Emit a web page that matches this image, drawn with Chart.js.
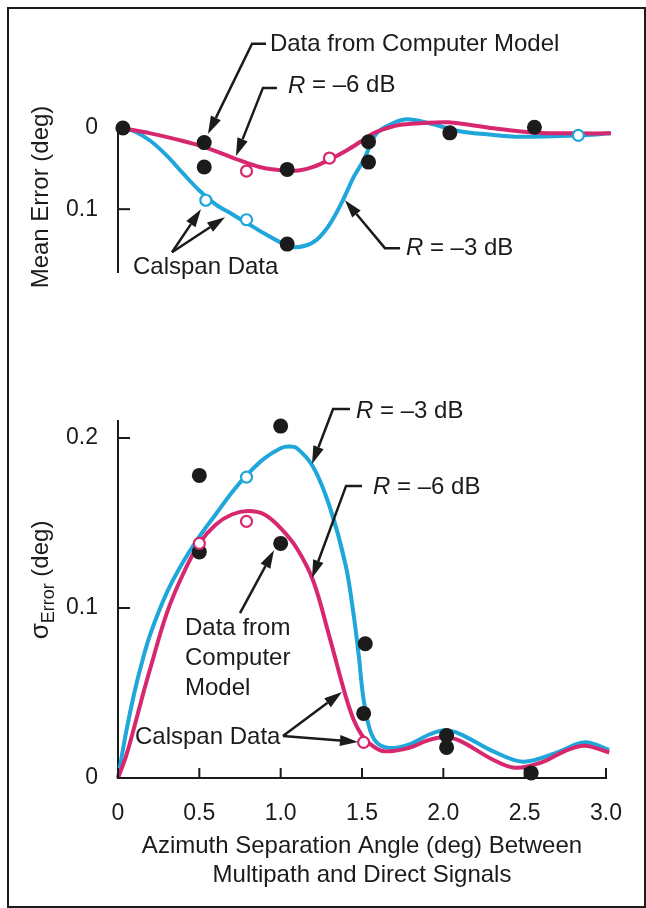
<!DOCTYPE html>
<html>
<head>
<meta charset="utf-8">
<script src="https://cdn.jsdelivr.net/npm/chart.js@4.4.1/dist/chart.umd.min.js"></script>
<style>
  html, body { margin: 0; padding: 0; background: #fff; }
  #page { position: relative; width: 646px; height: 908px; overflow: hidden; background: #fff; }
  #page canvas { position: absolute; left: 0; top: 0; }
  #frame { position: absolute; left: 7px; top: 7px; width: 639px; height: 901px; box-sizing: border-box; border: 2px solid #1c1c1c; }
</style>
</head>
<body>
<div id="page">
  <div id="frame"></div>
  <canvas id="meanChart" width="646" height="908"></canvas>
  <canvas id="sigmaChart" width="646" height="908"></canvas>
</div>
<script>
// x = azimuth separation angle (deg), y = error (deg)
const xTicks = [0, 0.5, 1.0, 1.5, 2.0, 2.5, 3.0]
const xTickLabels = ['0', '0.5', '1.0', '1.5', '2.0', '2.5', '3.0']
const meanTicks = [0, 0.1]
const meanTickLabels = ['0', '0.1']
const sigmaTicks = [0, 0.1, 0.2]
const sigmaTickLabels = ['0', '0.1', '0.2']

// mean error (top panel, axis points down)
const meanR6 = [[0.02, 0], [0.2, 0.0066], [0.36, 0.014], [0.525, 0.023], [0.71, 0.037], [0.87, 0.048],
  [1.04, 0.0527], [1.12, 0.052], [1.2, 0.048], [1.3, 0.039], [1.41, 0.027], [1.49, 0.017], [1.57, 0.0066],
  [1.63, 0.0016], [1.73, -0.0037], [1.86, -0.0058], [2.03, -0.007], [2.31, 0.0004], [2.57, 0.0058],
  [2.82, 0.0066], [3.03, 0.0066]]
const meanR3 = [[0.02, 0], [0.1, 0.004], [0.2, 0.016], [0.3, 0.034], [0.4, 0.056], [0.5, 0.077],
  [0.6, 0.094], [0.7, 0.106], [0.8, 0.118], [0.9, 0.130], [1.0, 0.141], [1.07, 0.1465], [1.15, 0.145],
  [1.22, 0.138], [1.3, 0.119], [1.38, 0.090], [1.45, 0.060], [1.51, 0.0395], [1.59, 0.0066],
  [1.69, -0.0058], [1.78, -0.0107], [1.91, -0.006], [2.1, 0.004], [2.31, 0.0086], [2.44, 0.0107],
  [2.82, 0.0092], [3.03, 0.0066]]
const meanModel = [[0.03, 0], [0.53, 0.018], [0.53, 0.048], [1.04, 0.051], [1.04, 0.143],
  [1.54, 0.017], [1.54, 0.042], [2.04, 0.006], [2.56, -0.001]]
const meanCalspanR6 = [[0.79, 0.053], [1.30, 0.037]]
const meanCalspanR3 = [[0.54, 0.089], [0.79, 0.113], [2.83, 0.009]]

// standard deviation of error (bottom panel)
const sigmaR3 = [[0, 0], [0.05, 0.027], [0.1, 0.050], [0.15, 0.069], [0.2, 0.085], [0.3, 0.109],
  [0.4, 0.127], [0.5, 0.142], [0.6, 0.155], [0.7, 0.168], [0.8, 0.179], [0.9, 0.188], [1.0, 0.194],
  [1.05, 0.195], [1.1, 0.194], [1.2, 0.183], [1.3, 0.160], [1.4, 0.125], [1.45, 0.095], [1.48, 0.072],
  [1.51, 0.046], [1.55, 0.028], [1.6, 0.020], [1.69, 0.0176], [1.8, 0.020], [1.9, 0.025], [2.0, 0.028],
  [2.1, 0.026], [2.3, 0.016], [2.49, 0.0096], [2.7, 0.015], [2.87, 0.021], [3.02, 0.0165]]
const sigmaR6 = [[0, 0], [0.05, 0.013], [0.1, 0.030], [0.15, 0.048], [0.2, 0.065], [0.3, 0.097],
  [0.4, 0.120], [0.5, 0.138], [0.6, 0.149], [0.7, 0.155], [0.8, 0.157], [0.9, 0.155], [1.0, 0.147],
  [1.1, 0.135], [1.2, 0.116], [1.3, 0.083], [1.4, 0.048], [1.45, 0.034], [1.5, 0.025], [1.55, 0.020],
  [1.62, 0.016], [1.7, 0.016], [1.8, 0.018], [1.9, 0.022], [2.0, 0.024], [2.1, 0.022], [2.3, 0.011],
  [2.44, 0.006], [2.6, 0.009], [2.75, 0.016], [2.87, 0.019], [3.02, 0.015]]
const sigmaModel = [[0.50, 0.178], [0.50, 0.133], [1.0, 0.207], [1.0, 0.138], [1.52, 0.079],
  [1.51, 0.038], [2.02, 0.025], [2.02, 0.018], [2.54, 0.003]]
const sigmaCalspanR3 = [[0.79, 0.177]]
const sigmaCalspanR6 = [[0.50, 0.138], [0.79, 0.151], [1.51, 0.021]]

const ink = '#1b1b1b'
const cyan = '#1fa6da'
const magenta = '#d7286f'
const fontFamily = '"Liberation Sans", Arial, Helvetica, sans-serif'

const pt = p => ({x: p[0], y: p[1]})

function curve(points, color) {
  return { data: points.map(pt), showLine: true, borderColor: color, borderWidth: 4, pointRadius: 0,
    tension: 0.35, clip: false, order: 3 }
}
function dots(points) {
  return { data: points.map(pt), showLine: false, pointRadius: 7.5, backgroundColor: ink,
    borderWidth: 0, clip: false, order: 1 }
}
function rings(points, color) {
  return { data: points.map(pt), showLine: false, pointRadius: 5.5, backgroundColor: '#fff',
    borderColor: color, borderWidth: 2.2, clip: false, order: 0 }
}

// inward ticks, rotated y titles, callouts and arrows
const decorations = {
  id: 'decorations',
  afterDraw(chart, args, o) {
    const ctx = chart.ctx
    const xs = chart.scales.x, ys = chart.scales.y
    const X = v => xs.getPixelForValue(v), Y = v => ys.getPixelForValue(v)
    ctx.save()
    ctx.strokeStyle = ink
    ctx.fillStyle = ink
    ctx.lineWidth = 2
    o.yTicks.forEach(v => {
      ctx.beginPath(); ctx.moveTo(ys.right, Y(v)); ctx.lineTo(ys.right + 12, Y(v)); ctx.stroke()
    })
    ;(o.xTicks || []).forEach(v => {
      ctx.beginPath(); ctx.moveTo(X(v), xs.top); ctx.lineTo(X(v), xs.top - 10); ctx.stroke()
    })

    // y title
    const t = o.yTitle
    ctx.save()
    ctx.translate(t.x, t.y)
    ctx.rotate(-Math.PI / 2)
    ctx.textBaseline = 'alphabetic'
    ctx.textAlign = 'left'
    let total = 0
    t.parts.forEach(p => { ctx.font = `${p.size}px ${fontFamily}`; p.w = ctx.measureText(p.text).width; total += p.w })
    let cx = -total / 2
    t.parts.forEach(p => {
      ctx.font = `${p.size}px ${fontFamily}`
      ctx.fillText(p.text, cx, 8 + p.dy)
      cx += p.w
    })
    ctx.restore()

    // callout text
    ctx.textBaseline = 'middle'
    ctx.textAlign = 'left'
    o.notes.forEach(n => {
      const px = X(n.at[0]), py = Y(n.at[1])
      n.lines.forEach((line, i) => {
        const yy = py + i * (n.gap || 0)
        if (n.italicR) {
          ctx.font = `italic 24px ${fontFamily}`
          ctx.fillText('R', px, yy)
          const w = ctx.measureText('R').width
          ctx.font = `24px ${fontFamily}`
          ctx.fillText(line.slice(1), px + w, yy)
        } else {
          ctx.font = `24px ${fontFamily}`
          ctx.fillText(line, px, yy)
        }
      })
    })

    // arrows: polyline in data units, head at the last point
    o.arrows.forEach(a => {
      const p = a.map(q => [X(q[0]), Y(q[1])])
      const [tx, ty] = p[p.length - 1]
      const [sx, sy] = p[p.length - 2]
      const ang = Math.atan2(ty - sy, tx - sx)
      const head = 18, half = 5.5
      const bx = tx - head * Math.cos(ang), by = ty - head * Math.sin(ang)
      ctx.lineWidth = 2.5
      ctx.beginPath()
      ctx.moveTo(p[0][0], p[0][1])
      for (let i = 1; i < p.length - 1; i++) ctx.lineTo(p[i][0], p[i][1])
      ctx.lineTo(bx, by)
      ctx.stroke()
      ctx.beginPath()
      ctx.moveTo(tx, ty)
      ctx.lineTo(bx + half * Math.sin(ang), by - half * Math.cos(ang))
      ctx.lineTo(bx - half * Math.sin(ang), by + half * Math.cos(ang))
      ctx.closePath()
      ctx.fill()
    })
    ctx.restore()
  }
}

const tickFont = { family: fontFamily, size: 23 }

new Chart(document.getElementById('meanChart'), {
  type: 'scatter',
  data: {
    datasets: [
      rings(meanCalspanR6, magenta),
      rings(meanCalspanR3, cyan),
      dots(meanModel),
      curve(meanR6, magenta),
      curve(meanR3, cyan)
    ]
  },
  plugins: [decorations],
  options: {
    responsive: false,
    animation: false,
    events: [],
    layout: { padding: { left: 8, right: 40, top: 128, bottom: 635.5 } },
    scales: {
      x: { type: 'linear', min: 0, max: 3, display: false },
      y: {
        type: 'linear', min: 0, max: 0.178, reverse: true,
        afterFit: s => { s.width = 110 },
        afterBuildTicks: s => { s.ticks = meanTicks.map(v => ({value: v})) },
        grid: { display: false },
        border: { display: true, color: ink, width: 2 },
        ticks: { padding: 12, color: ink, font: tickFont, callback: (v, i) => meanTickLabels[i] }
      }
    },
    plugins: {
      legend: { display: false },
      tooltip: { enabled: false },
      decorations: {
        yTicks: meanTicks,
        yTitle: { x: 40, y: 197, parts: [{ text: 'Mean Error (deg)', size: 24, dy: 0 }] },
        notes: [
          { lines: ['Data from Computer Model'], at: [0.934, -0.1025] },
          { lines: ['R = –6 dB'], at: [1.045, -0.0519], italicR: true },
          { lines: ['Calspan Data'], at: [0.092, 0.1716] },
          { lines: ['R = –3 dB'], at: [1.770, 0.148], italicR: true }
        ],
        arrows: [
          [[0.91, -0.1037], [0.824, -0.1037], [0.553, 0.0074]],
          [[0.977, -0.0494], [0.891, -0.0494], [0.725, 0.0346]],
          [[0.332, 0.153], [0.51, 0.1]],
          [[0.332, 0.153], [0.658, 0.11]],
          [[1.734, 0.148], [1.641, 0.148], [1.395, 0.0889]]
        ]
      }
    }
  }
})

new Chart(document.getElementById('sigmaChart'), {
  type: 'scatter',
  data: {
    datasets: [
      rings(sigmaCalspanR6, magenta),
      rings(sigmaCalspanR3, cyan),
      dots(sigmaModel),
      curve(sigmaR6, magenta),
      curve(sigmaR3, cyan)
    ]
  },
  plugins: [decorations],
  options: {
    responsive: false,
    animation: false,
    events: [],
    layout: { padding: { left: 8, right: 40, top: 421, bottom: 18 } },
    scales: {
      x: {
        type: 'linear', min: 0, max: 3,
        afterFit: s => { s.height = 112 },
        afterBuildTicks: s => { s.ticks = xTicks.map(v => ({value: v})) },
        grid: { display: false },
        border: { display: true, color: ink, width: 2 },
        ticks: { padding: 14, color: ink, font: tickFont, maxRotation: 0, callback: (v, i) => xTickLabels[i] },
        title: {
          display: true,
          text: ['Azimuth Separation Angle (deg) Between', 'Multipath and Direct Signals'],
          color: ink,
          font: { family: fontFamily, size: 24, lineHeight: 1.2 },
          padding: { top: 0, bottom: 0 }
        }
      },
      y: {
        type: 'linear', min: 0, max: 0.21,
        afterFit: s => { s.width = 110 },
        afterBuildTicks: s => { s.ticks = sigmaTicks.map(v => ({value: v})) },
        grid: { display: false },
        border: { display: true, color: ink, width: 2 },
        ticks: { padding: 12, color: ink, font: tickFont, callback: (v, i) => sigmaTickLabels[i] }
      }
    },
    plugins: {
      legend: { display: false },
      tooltip: { enabled: false },
      decorations: {
        yTicks: sigmaTicks,
        xTicks: xTicks,
        yTitle: { x: 40, y: 580, parts: [
          { text: 'σ', size: 26, dy: 0 },
          { text: 'Error', size: 18, dy: 6 },
          { text: ' (deg)', size: 24, dy: 0 }
        ] },
        notes: [
          { lines: ['R = –3 dB'], at: [1.463, 0.2159], italicR: true },
          { lines: ['R = –6 dB'], at: [1.568, 0.1712], italicR: true },
          { lines: ['Data from', 'Computer', 'Model'], at: [0.412, 0.0882], gap: 30 },
          { lines: ['Calspan Data'], at: [0.1045, 0.0241] }
        ],
        arrows: [
          [[1.426, 0.2171], [1.322, 0.2171], [1.193, 0.1847]],
          [[1.5, 0.1718], [1.402, 0.1718], [1.193, 0.1176]],
          [[0.75, 0.097], [0.959, 0.134]],
          [[1.014, 0.0247], [1.377, 0.0506]],
          [[1.014, 0.0247], [1.475, 0.0212]]
        ]
      }
    }
  }
})
</script>
</body>
</html>
